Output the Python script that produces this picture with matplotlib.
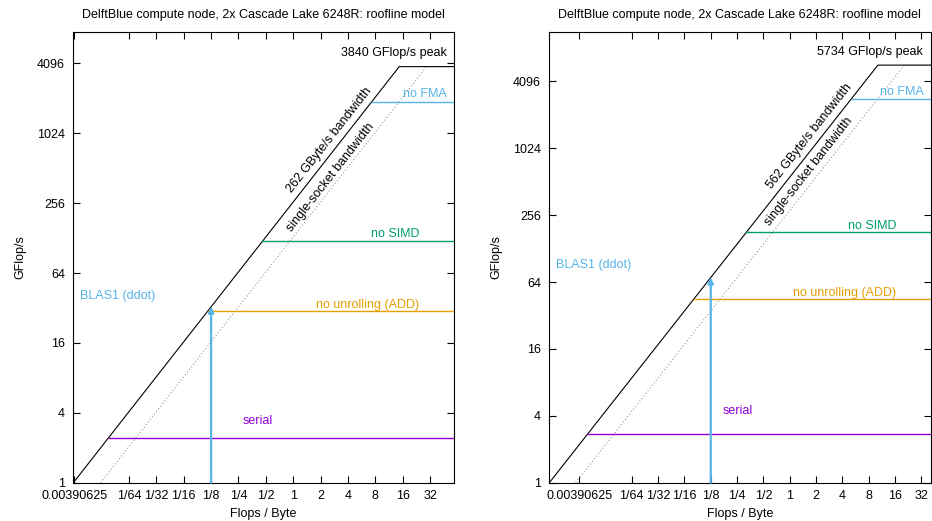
import numpy as np
import matplotlib
matplotlib.use("Agg")
import matplotlib.pyplot as plt

plt.rcParams['font.family'] = ['Liberation Sans', 'DejaVu Sans']

# ---- data ----
title = "DelftBlue compute node, 2x Cascade Lake 6248R: roofline model"
peak = [3840, 5734]            # GFlop/s
bandwidth = [262, 562]         # GByte/s (node)
socket_bw = [131, 281]         # GByte/s (single socket)
no_fma = [1920, 2867]
no_simd = [120, 179]
no_unroll = [30, 44.8]
serial = [2.45, 2.72]
ddot_intensity = 1 / 8

xtick_vals = [1/256, 1/64, 1/32, 1/16, 1/8, 1/4, 1/2, 1, 2, 4, 8, 16, 32]
xtick_labels = ["0.00390625", "1/64", "1/32", "1/16", "1/8", "1/4", "1/2",
                "1", "2", "4", "8", "16", "32"]
ytick_vals = [1, 4, 16, 64, 256, 1024, 4096]
ytick_labels = ["1", "4", "16", "64", "256", "1024", "4096"]

C_BLUE = "#56b4e9"
C_GREEN = "#009e73"
C_ORANGE = "#e69f00"
C_PURPLE = "#9400d3"

fig = plt.figure(figsize=(9.32, 5.21), dpi=100)
axes_pos = [[0.0787, 0.0735, 0.4084, 0.8657],
            [0.5894, 0.0735, 0.4090, 0.8657]]

# text positions (axes fraction) per panel
txt = [
    dict(blas=(0.0176, 0.414), serial=(0.485, 0.136), add=(0.774, 0.394),
         simd=(0.847, 0.552), fma=(0.981, 0.862), peak=(0.981, 0.953),
         bw=(0.674, 0.760), sock=(0.677, 0.676)),
    dict(blas=(0.0175, 0.482), serial=(0.494, 0.160), add=(0.774, 0.420),
         simd=(0.847, 0.569), fma=(0.981, 0.866), peak=(0.980, 0.955),
         bw=(0.682, 0.769), sock=(0.682, 0.689)),
]

FS = 9
for i in range(2):
    ax = fig.add_axes(axes_pos[i])
    P, B, S = peak[i], bandwidth[i], socket_bw[i]
    xmin, xmax = 1 / B, 4 * P / B
    ymin, ymax = 1, 2 * P
    ax.set_xscale('log', base=2)
    ax.set_yscale('log', base=2)
    ax.set_xlim(xmin, xmax)
    ax.set_ylim(ymin, ymax)

    # single-socket roofline
    ax.plot([1 / S, P / S, xmax], [1, P, P], color='#999999', lw=0.8,
            linestyle=(0, (1, 2)))
    # roofline
    ax.plot([1 / B, P / B, xmax], [1, P, P], color='black', lw=0.8)
    # ceilings
    for val, col in [(no_fma[i], C_BLUE), (no_simd[i], C_GREEN),
                     (no_unroll[i], C_ORANGE), (serial[i], C_PURPLE)]:
        ax.plot([val / B, xmax], [val, val], color=col, lw=1.0)
    # ddot arrow
    ax.annotate("", xy=(ddot_intensity, B * ddot_intensity),
                xytext=(ddot_intensity, 1),
                arrowprops=dict(arrowstyle='-|>', color=C_BLUE, lw=1.6,
                                mutation_scale=8, shrinkA=0, shrinkB=0))

    t = txt[i]
    tr = ax.transAxes
    ax.text(*t['blas'], "BLAS1 (ddot)", color=C_BLUE, fontsize=FS, ha='left', va='center', transform=tr)
    ax.text(*t['serial'], "serial", color=C_PURPLE, fontsize=FS, ha='center', va='center', transform=tr)
    ax.text(*t['add'], "no unrolling (ADD)", color=C_ORANGE, fontsize=FS, ha='center', va='center', transform=tr)
    ax.text(*t['simd'], "no SIMD", color=C_GREEN, fontsize=FS, ha='center', va='center', transform=tr)
    ax.text(*t['fma'], "no FMA", color=C_BLUE, fontsize=FS, ha='right', va='center', transform=tr)
    ax.text(*t['peak'], f"{P} GFlop/s peak", color='black', fontsize=FS, ha='right', va='center', transform=tr)

    # rotation angle following the roofline slope
    p0 = ax.transData.transform((1 / B, 1))
    p1 = ax.transData.transform((P / B, P))
    ang = np.degrees(np.arctan2(p1[1] - p0[1], p1[0] - p0[0]))
    ax.text(*t['bw'], f"{B} GByte/s bandwidth", color='black', fontsize=FS, ha='center', va='center',
            rotation=ang, rotation_mode='anchor', transform=tr)
    ax.text(*t['sock'], "single-socket bandwidth", color='black', fontsize=FS, ha='center', va='center',
            rotation=ang, rotation_mode='anchor', transform=tr)

    ax.set_xticks(xtick_vals)
    ax.set_xticklabels(xtick_labels)
    ax.set_yticks(ytick_vals)
    ax.set_yticklabels(ytick_labels)
    ax.minorticks_off()
    ax.tick_params(direction='in', top=True, right=True, length=5, width=0.8,
                   labelsize=FS, colors='black')
    ax.tick_params(axis='x', pad=5.5)
    ax.tick_params(axis='y', pad=6)
    for sp in ax.spines.values():
        sp.set_linewidth(0.8)
    ax.set_xlabel("Flops / Byte", fontsize=FS, labelpad=4)
    ax.set_ylabel("GFlop/s", fontsize=FS, labelpad=8)
    ax.set_title(title, fontsize=FS, pad=10)

fig.savefig("out.png", dpi=100)
